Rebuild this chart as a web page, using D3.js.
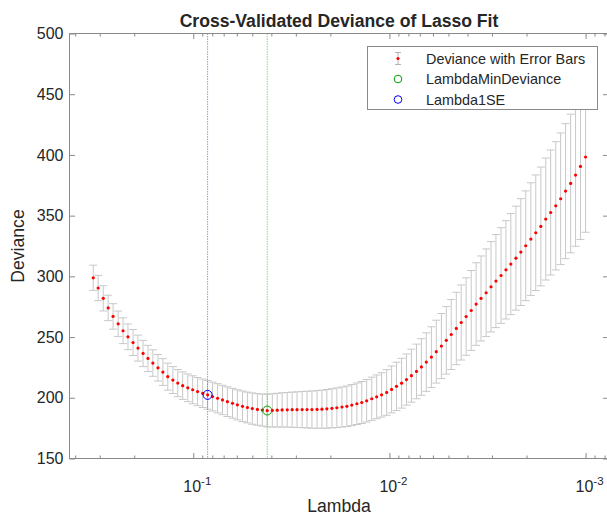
<!DOCTYPE html>
<html>
<head>
<meta charset="utf-8">
<script src="https://cdn.jsdelivr.net/npm/d3@7"></script>
<style>
  body { margin: 0; background: #fff; overflow: hidden; }
  text { font-family: "Liberation Sans", Arial, Helvetica, sans-serif; fill: #262626; }
</style>
</head>
<body>
<div id="cv_plot"></div>
<script>
// log10(Lambda) of each fit
var lambdaLog10 = [-0.490,-0.515,-0.541,-0.566,-0.591,-0.617,-0.642,-0.667,-0.693,-0.718,
  -0.744,-0.769,-0.794,-0.820,-0.845,-0.870,-0.896,-0.921,-0.946,-0.972,
  -0.997,-1.022,-1.048,-1.073,-1.098,-1.124,-1.149,-1.174,-1.200,-1.225,
  -1.251,-1.276,-1.301,-1.327,-1.352,-1.377,-1.403,-1.428,-1.453,-1.479,
  -1.504,-1.529,-1.555,-1.580,-1.605,-1.631,-1.656,-1.681,-1.707,-1.732,
  -1.758,-1.783,-1.808,-1.834,-1.859,-1.884,-1.910,-1.935,-1.960,-1.986,
  -2.011,-2.036,-2.062,-2.087,-2.112,-2.138,-2.163,-2.188,-2.214,-2.239,
  -2.265,-2.290,-2.315,-2.341,-2.366,-2.391,-2.417,-2.442,-2.467,-2.493,
  -2.518,-2.543,-2.569,-2.594,-2.619,-2.645,-2.670,-2.695,-2.721,-2.746,
  -2.772,-2.797,-2.822,-2.848,-2.873,-2.898,-2.924,-2.949,-2.974,-3.000];

var deviance = [298.8,290.4,281.9,274.0,267.0,260.9,255.2,250.2,245.5,240.9,
  236.5,232.4,228.6,224.7,221.2,217.4,214.6,212.1,210.0,208.2,
  206.6,205.1,203.7,202.4,201.0,199.6,198.2,196.8,195.5,194.2,
  193.0,192.0,191.1,190.4,189.9,189.5,189.6,189.8,190.0,190.1,
  190.2,190.2,190.3,190.3,190.3,190.4,190.6,190.9,191.3,191.8,
  192.4,193.0,194.0,195.1,196.1,197.5,199.2,200.8,202.4,204.4,
  206.9,209.4,212.0,215.0,218.2,221.7,225.4,229.4,233.5,238.0,
  242.6,247.3,252.1,257.1,262.0,266.9,271.9,277.2,281.8,286.5,
  291.4,296.1,300.7,305.4,310.1,315.0,320.0,325.2,330.7,335.9,
  341.1,347.2,352.6,358.1,363.9,370.2,376.5,383.4,390.5,398.3];

var devianceSE = [10.4,10.4,10.4,10.5,10.5,10.5,10.6,10.6,10.7,10.7,
  10.8,10.8,10.9,10.9,11.0,11.1,11.1,11.2,11.3,11.4,
  11.5,11.6,11.7,11.8,11.9,12.0,12.1,12.2,12.3,12.4,
  12.6,12.7,12.9,13.0,13.2,13.5,13.7,13.9,14.1,14.3,
  14.5,14.7,14.9,15.1,15.3,15.5,15.7,15.9,16.1,16.3,
  16.5,16.7,16.9,17.1,17.3,17.5,17.8,18.0,18.3,18.8,
  19.3,19.9,20.5,21.1,21.8,22.5,23.3,24.1,25.0,25.9,
  26.8,27.8,28.8,29.8,30.9,31.9,32.9,34.0,35.0,36.1,
  37.2,38.3,39.4,40.5,41.6,42.8,44.0,45.2,46.4,47.6,
  48.9,50.2,51.5,52.8,54.2,55.6,57.1,58.6,60.2,62.0];

var indexMinDeviance = 35;
var index1SE = 23;

var xLimits = [0.4276, 0.000764];
var xTickExps = [-1, -2, -3];
var yLimits = [150, 500];
var yTicks = [150, 200, 250, 300, 350, 400, 450, 500];
var legendLabels = ["Deviance with Error Bars", "LambdaMinDeviance", "Lambda1SE"];

var margin = {top: 33.5, right: 0, bottom: 57, left: 69.5},
    width = 539,
    height = 425;

var axisColor = "#8a8a8a";

var svg = d3.select("#cv_plot")
  .append("svg")
    .attr("width", 607)
    .attr("height", 516);

var g = svg.append("g")
    .attr("transform", "translate(" + margin.left + "," + margin.top + ")");

var x = d3.scaleLog()
  .domain(xLimits)
  .range([0, width]);

var y = d3.scaleLinear()
  .domain(yLimits)
  .range([height, 0]);

var data = lambdaLog10.map(function(l, i) {
  return {lambda: Math.pow(10, l), dev: deviance[i], se: devianceSE[i]};
});

// minor ticks 2..9 x 10^k inside the limits
var majorX = xTickExps.map(function(e){ return Math.pow(10, e); });
var minorX = [];
[-4, -3, -2, -1].forEach(function(e) {
  for (var m = 2; m <= 9; m++) {
    var v = m * Math.pow(10, e);
    if (v <= xLimits[0] && v >= xLimits[1]) minorX.push(v);
  }
});

function styleAxis(sel) {
  sel.select(".domain").remove();
  sel.selectAll(".tick line").attr("stroke", axisColor);
}

// error bars
var capW = 4;
var bars = g.append("g").attr("stroke", "#c8c8c8").attr("stroke-width", 1).attr("fill", "none");
bars.selectAll("vertLines")
  .data(data)
  .enter()
  .append("line")
    .attr("x1", function(d){ return x(d.lambda); })
    .attr("x2", function(d){ return x(d.lambda); })
    .attr("y1", function(d){ return y(d.dev - d.se); })
    .attr("y2", function(d){ return y(d.dev + d.se); });
bars.selectAll("topCaps")
  .data(data)
  .enter()
  .append("line")
    .attr("x1", function(d){ return x(d.lambda) - capW; })
    .attr("x2", function(d){ return x(d.lambda) + capW; })
    .attr("y1", function(d){ return y(d.dev + d.se); })
    .attr("y2", function(d){ return y(d.dev + d.se); });
bars.selectAll("bottomCaps")
  .data(data)
  .enter()
  .append("line")
    .attr("x1", function(d){ return x(d.lambda) - capW; })
    .attr("x2", function(d){ return x(d.lambda) + capW; })
    .attr("y1", function(d){ return y(d.dev - d.se); })
    .attr("y2", function(d){ return y(d.dev - d.se); });

// vertical dotted lines at the two chosen lambdas
var marks = [
  {d: data[index1SE], color: "#0000ff", line: "#4d4dff"},
  {d: data[indexMinDeviance], color: "#00a000", line: "#33bb33"}
];
g.selectAll("vLines")
  .data(marks)
  .enter()
  .append("line")
    .attr("x1", function(m){ return x(m.d.lambda); })
    .attr("x2", function(m){ return x(m.d.lambda); })
    .attr("y1", 0)
    .attr("y2", height)
    .attr("stroke", function(m){ return m.line; })
    .attr("stroke-width", 0.6)
    .attr("stroke-dasharray", "1.5,1");

// deviance points
g.selectAll("dots")
  .data(data)
  .enter()
  .append("circle")
    .attr("cx", function(d){ return x(d.lambda); })
    .attr("cy", function(d){ return y(d.dev); })
    .attr("r", 1.6)
    .attr("fill", "#ff0000");

// circles
g.selectAll("rings")
  .data(marks)
  .enter()
  .append("circle")
    .attr("cx", function(m){ return x(m.d.lambda); })
    .attr("cy", function(m){ return y(m.d.dev); })
    .attr("r", 4.5)
    .attr("fill", "none")
    .attr("stroke", function(m){ return m.color; })
    .attr("stroke-width", 1);

// axes, ticks pointing inward on all four sides
g.append("g")
  .attr("transform", "translate(0," + height + ")")
  .call(d3.axisBottom(x).tickValues(majorX).tickSize(-5.5).tickFormat(""))
  .call(styleAxis);
g.append("g")
  .attr("transform", "translate(0," + height + ")")
  .call(d3.axisBottom(x).tickValues(minorX).tickSize(-3).tickFormat(""))
  .call(styleAxis);
g.append("g")
  .call(d3.axisTop(x).tickValues(majorX).tickSize(-5.5).tickFormat(""))
  .call(styleAxis);
g.append("g")
  .call(d3.axisTop(x).tickValues(minorX).tickSize(-3).tickFormat(""))
  .call(styleAxis);

var yAxis = g.append("g")
  .call(d3.axisLeft(y).tickValues(yTicks).tickSize(-5.5).tickPadding(6))
  .call(styleAxis);
yAxis.selectAll("text")
  .attr("font-size", "16px")
  .attr("font-family", null)
  .attr("fill", "#262626");
g.append("g")
  .attr("transform", "translate(" + width + ",0)")
  .call(d3.axisRight(y).tickValues(yTicks).tickSize(-5.5).tickFormat(""))
  .call(styleAxis);

g.append("rect")
  .attr("width", width)
  .attr("height", height)
  .attr("fill", "none")
  .attr("stroke", axisColor)
  .attr("stroke-width", 1);

// x tick labels 10^k
var xLab = g.selectAll("xLabels")
  .data(xTickExps)
  .enter()
  .append("text")
    .attr("x", function(e){ return x(Math.pow(10, e)) + 4; })
    .attr("y", height + 33)
    .attr("text-anchor", "middle")
    .attr("font-size", "16px");
xLab.append("tspan").text("10");
xLab.append("tspan")
  .attr("dy", -7)
  .attr("font-size", "11.5px")
  .text(function(e){ return String(e); });

// title and axis labels
svg.append("text")
  .attr("x", margin.left + width / 2)
  .attr("y", 27)
  .attr("text-anchor", "middle")
  .attr("font-size", "17.6px")
  .attr("font-weight", "bold")
  .text("Cross-Validated Deviance of Lasso Fit");

svg.append("text")
  .attr("x", margin.left + width / 2)
  .attr("y", 512)
  .attr("text-anchor", "middle")
  .attr("font-size", "17.6px")
  .text("Lambda");

svg.append("text")
  .attr("transform", "translate(24," + (margin.top + height / 2) + ") rotate(-90)")
  .attr("text-anchor", "middle")
  .attr("font-size", "17.6px")
  .text("Deviance");

// legend
var legend = svg.append("g").attr("transform", "translate(367.5,46.5)");
legend.append("rect")
  .attr("width", 230)
  .attr("height", 63)
  .attr("fill", "#ffffff")
  .attr("stroke", axisColor);

var rowY = [12, 32.5, 53];
var iconX = 30.5;
legend.selectAll("labels")
  .data(legendLabels)
  .enter()
  .append("text")
    .attr("x", 58.5)
    .attr("y", function(d, i){ return rowY[i] + 5; })
    .attr("font-size", "14.4px")
    .text(function(d){ return d; });

var icon = legend.append("g").attr("stroke", "#b4b4b4").attr("fill", "none");
icon.append("line").attr("x1", iconX).attr("x2", iconX).attr("y1", rowY[0] - 6).attr("y2", rowY[0] + 6);
icon.append("line").attr("x1", iconX - 3).attr("x2", iconX + 3).attr("y1", rowY[0] - 6).attr("y2", rowY[0] - 6);
icon.append("line").attr("x1", iconX - 3).attr("x2", iconX + 3).attr("y1", rowY[0] + 6).attr("y2", rowY[0] + 6);
legend.append("circle").attr("cx", iconX).attr("cy", rowY[0]).attr("r", 1.6).attr("fill", "#ff0000");
legend.append("circle").attr("cx", iconX).attr("cy", rowY[1]).attr("r", 3.8)
  .attr("fill", "none").attr("stroke", marks[1].color);
legend.append("circle").attr("cx", iconX).attr("cy", rowY[2]).attr("r", 3.8)
  .attr("fill", "none").attr("stroke", marks[0].color);
</script>
</body>
</html>
